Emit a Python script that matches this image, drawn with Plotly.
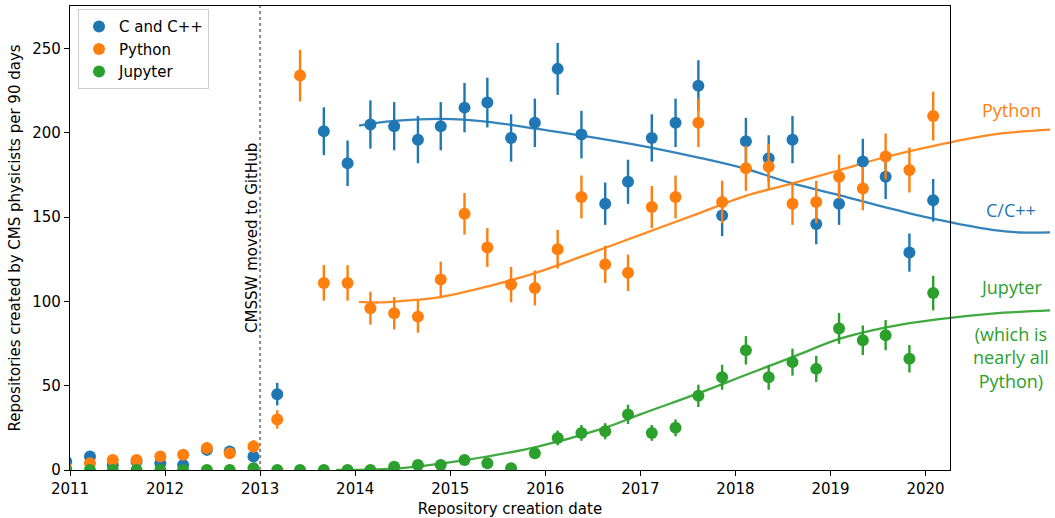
import plotly.graph_objects as go

# ---------------- data ----------------
DATES = [2010.96, 2011.21, 2011.45, 2011.70, 2011.95, 2012.19, 2012.44, 2012.68,
         2012.93, 2013.18, 2013.42, 2013.67, 2013.92, 2014.16, 2014.41, 2014.66,
         2014.90, 2015.15, 2015.39, 2015.64, 2015.89, 2016.13, 2016.38, 2016.63,
         2016.87, 2017.12, 2017.37, 2017.61, 2017.86, 2018.11, 2018.35, 2018.60,
         2018.85, 2019.09, 2019.34, 2019.58, 2019.83, 2020.08]

CPP = [5, 8, 3, 5, 4, 3, 12, 11, 8, 45, None, 201, 182, 205, 204, 196, 204, 215,
       218, 197, 206, 238, 199, 158, 171, 197, 206, 228, 151, 195, 185, 196, 146,
       158, 183, 174, 129, 160]

PYTHON = [1, 4, 6, 6, 8, 9, 13, 10, 14, 30, 234, 111, 111, 96, 93, 91, 113, 152,
          132, 110, 108, 131, 162, 122, 117, 156, 162, 206, 159, 179, 180, 158, 159,
          174, 167, 186, 178, 210]

JUPYTER = [0, 0, 0, 0, 0, 0, 0, 0, 1, 0, 0, 0, 0, 0, 2, 3, 3, 6, 4, 1, 10, 19, 22,
           23, 33, 22, 25, 44, 55, 71, 55, 64, 60, 84, 77, 80, 66, 105]

FIT_CPP_X = [2014.04, 2014.2, 2014.45, 2014.9, 2015.4, 2015.9, 2016.4, 2017.0,
             2017.6, 2018.1, 2018.6, 2019.1, 2019.6, 2020.1, 2020.7, 2021.0, 2021.31]
FIT_CPP_Y = [204.3, 205.8, 207.3, 208.3, 206.6, 202.5, 198.3, 192.5,
             185.5, 178.8, 170.0, 163.0, 155.5, 148.8, 142.5, 140.9, 141.0]

FIT_PY_X = [2014.04, 2014.25, 2014.5, 2014.9, 2015.4, 2015.9, 2016.4, 2017.0,
            2017.6, 2018.1, 2018.6, 2019.1, 2019.6, 2020.1, 2020.7, 2021.31]
FIT_PY_Y = [99.7, 99.4, 100.3, 102.6, 109.0, 117.0, 127.0, 139.5,
            152.0, 162.5, 170.0, 178.0, 186.0, 192.5, 199.0, 202.0]

FIT_JUP_X = [2013.8, 2014.4, 2014.9, 2015.15, 2015.9, 2016.6, 2017.0, 2017.6,
             2018.1, 2018.6, 2019.1, 2019.6, 2020.1, 2020.7, 2021.31]
FIT_JUP_Y = [0.0, 0.8, 3.8, 5.8, 13.6, 24.5, 33.0, 45.3,
             56.2, 67.0, 77.9, 84.8, 89.2, 92.8, 94.7]

X_TICKS = [2011, 2012, 2013, 2014, 2015, 2016, 2017, 2018, 2019, 2020]
Y_TICKS = [0, 50, 100, 150, 200, 250]
X_RANGE = [2011, 2020.257]
X_RANGE_WIDE = [2011, 2021.309]
Y_RANGE = [0, 275.3]
EVENT_DATE = 2013
EVENT_LABEL = "CMSSW moved to GitHub"

SERIES = [("C and C++", CPP, "#1f77b4"),
          ("Python", PYTHON, "#ff7f0e"),
          ("Jupyter", JUPYTER, "#2ca02c")]
FITS = [(FIT_CPP_X, FIT_CPP_Y, "#1f77b4"),
        (FIT_PY_X, FIT_PY_Y, "#ff7f0e"),
        (FIT_JUP_X, FIT_JUP_Y, "#2ca02c")]

TICK_FONT = dict(family="DejaVu Sans", size=15, color="black")
LABEL_FONT = "Open Sans"

fig = go.Figure()

# fitted curves (on a wide, invisible subplot so they run past the frame)
for fx, fy, col in FITS:
    fig.add_trace(go.Scatter(x=fx, y=fy, mode="lines",
                             line=dict(color=col, width=2.3, shape="spline"),
                             opacity=0.9, xaxis="x", yaxis="y",
                             showlegend=False, hoverinfo="skip"))

# data points with Poisson error bars
for name, vals, col in SERIES:
    fig.add_trace(go.Scatter(x=DATES, y=vals, mode="markers", name=name,
                             marker=dict(size=12, color=col),
                             error_y=dict(type="sqrt", thickness=2.4, width=0,
                                          color=col),
                             xaxis="x2", yaxis="y2"))

axis_common = dict(showgrid=False, zeroline=False, showline=True, mirror=True,
                   linecolor="black", linewidth=1.2, ticks="outside",
                   ticklen=5, tickwidth=1.2, tickcolor="black",
                   tickfont=TICK_FONT, automargin=False)

fig.update_layout(
    width=1055, height=518,
    margin=dict(l=70, r=5, t=6, b=48),
    paper_bgcolor="white", plot_bgcolor="rgba(0,0,0,0)",
    font=dict(family="DejaVu Sans", size=15, color="black"),
    xaxis=dict(domain=[0, 1], range=X_RANGE_WIDE, visible=False, anchor="y"),
    yaxis=dict(domain=[0, 1], range=Y_RANGE, visible=False, anchor="x"),
    xaxis2=dict(domain=[0, 880 / 980], range=X_RANGE, anchor="y2",
                tickvals=X_TICKS, ticktext=[str(t) for t in X_TICKS],
                title=dict(text="Repository creation date", font=TICK_FONT,
                           standoff=6),
                **axis_common),
    yaxis2=dict(domain=[0, 1], range=Y_RANGE, anchor="x2",
                tickvals=Y_TICKS, ticktext=[str(t) for t in Y_TICKS],
                title=dict(text="Repositories created by CMS physicists per 90 days",
                           font=TICK_FONT, standoff=8),
                **axis_common),
    legend=dict(x=0.0082, y=0.993, xanchor="left", yanchor="top",
                bgcolor="rgba(255,255,255,0.85)", bordercolor="#cccccc",
                borderwidth=1, font=dict(family="DejaVu Sans", size=15)),
    showlegend=True,
)

fig.add_shape(type="line", xref="x2", yref="y2 domain", x0=EVENT_DATE,
              x1=EVENT_DATE, y0=0, y1=1,
              line=dict(color="#888888", width=2, dash="dot"))
fig.add_annotation(xref="x2", yref="y2", x=EVENT_DATE, y=137.8,
                   text=EVENT_LABEL, textangle=-90, showarrow=False,
                   xanchor="right", yanchor="middle", xshift=3,
                   font=dict(family="DejaVu Sans", size=15, color="black"))

# curve labels to the right of the frame
LABELS = [("Python", 213.4, "#ff7f0e"),
          ("C/C++", 154.0, "#1f77b4"),
          ("Jupyter", 108.6, "#2ca02c"),
          ("(which is<br>nearly all<br>Python)", 66.6, "#2ca02c")]
for txt, yv, col in LABELS:
    fig.add_annotation(xref="x", yref="y", x=2020.903, y=yv, text=txt,
                       showarrow=False, xanchor="center", yanchor="middle",
                       align="center",
                       font=dict(family=LABEL_FONT, size=18, color=col))

fig.write_html("out.html", config={"displayModeBar": False},
               post_script="document.body.style.margin='0';document.body.style.overflow='hidden';")
